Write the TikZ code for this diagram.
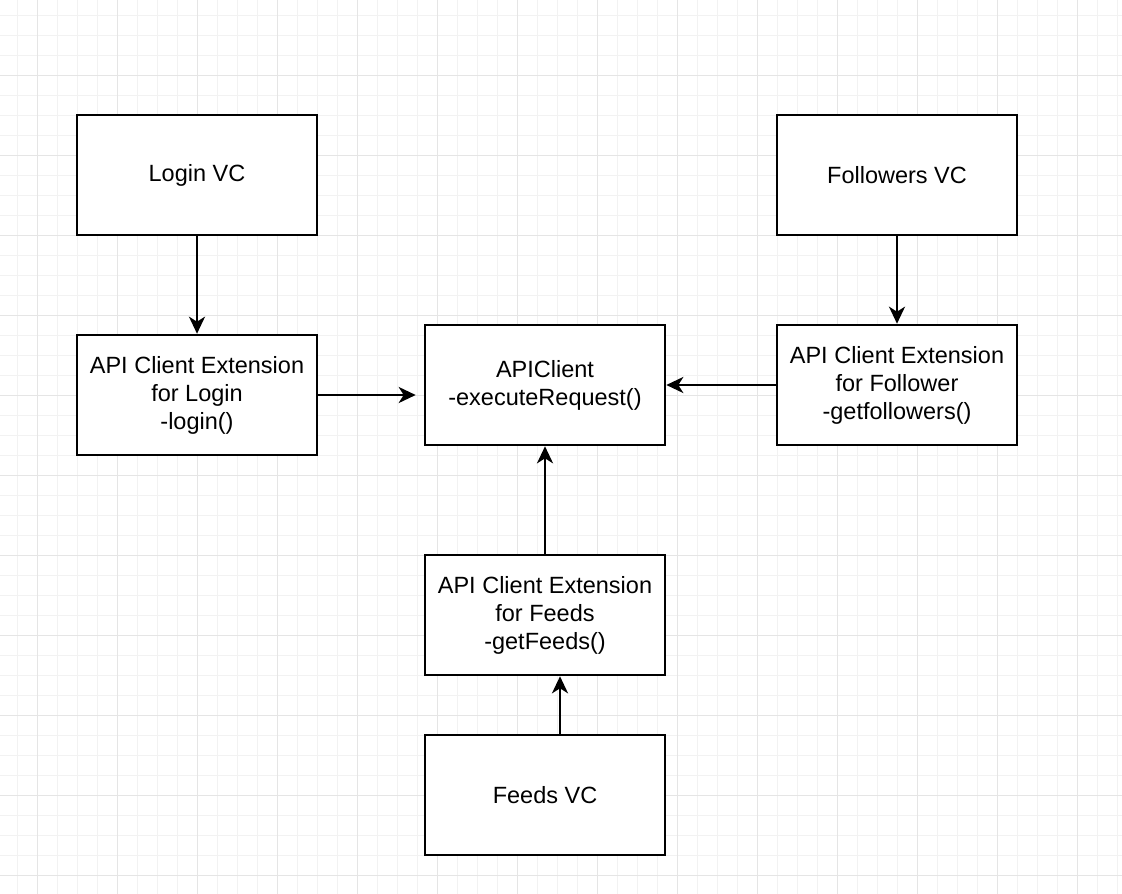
\documentclass[tikz,border=0pt]{standalone}
\usepackage{fontspec}
\setmainfont{Liberation Sans}
\usetikzlibrary{arrows.meta}
\begin{document}
\begin{tikzpicture}[x=1pt,y=-1pt,
  box/.style={draw=black, line width=2.6pt, fill=white, minimum width=240pt, minimum height=120pt,
    align=center, inner sep=0pt, font=\fontsize{23.5}{28}\selectfont},
  conn/.style={line width=2.6pt, -{Stealth[length=17pt,width=16pt,inset=5pt]}},
  minorgrid/.style={draw=black!5, line width=1pt},
  majorgrid/.style={draw=black!10, line width=1pt}]
\useasboundingbox (0,0) rectangle (1122,894);
\fill[white] (0,0) rectangle (1122,894);
% grid
\foreach \x in {17,37,...,1117} \draw[minorgrid] (\x,0) -- (\x,894);
\foreach \y in {15,35,...,894} \draw[minorgrid] (0,\y) -- (1122,\y);
\foreach \x in {37,117,...,1117} \draw[majorgrid] (\x,0) -- (\x,894);
\foreach \y in {75,155,...,894} \draw[majorgrid] (0,\y) -- (1122,\y);
% nodes
\node[box] (loginvc) at (197,175) {Login VC};
\node[box] (loginext) at (197,395) {API Client Extension\\for Login\\-login()};
\node[box] (api) at (545,385) {APIClient\\-executeRequest()};
\node[box] (folvc) at (897,175) {Followers VC};
\node[box] (folext) at (897,385) {API Client Extension\\for Follower\\-getfollowers()};
\node[box] (feedsext) at (545,615) {API Client Extension\\for Feeds\\-getFeeds()};
\node[box] (feedsvc) at (545,795) {Feeds VC};
% connectors
\draw[conn] (loginvc.south) -- (loginext.north);
\draw[conn, shorten >=8pt] (loginext.east) -- (api.west |- loginext.east);
\draw[conn] (folvc.south) -- (folext.north);
\draw[conn] (folext.west) -- (api.east);
\draw[conn] (feedsext.north) -- (api.south);
\draw[conn] ([xshift=15pt]feedsvc.north) -- ([xshift=15pt]feedsext.south);
\end{tikzpicture}
\end{document}
